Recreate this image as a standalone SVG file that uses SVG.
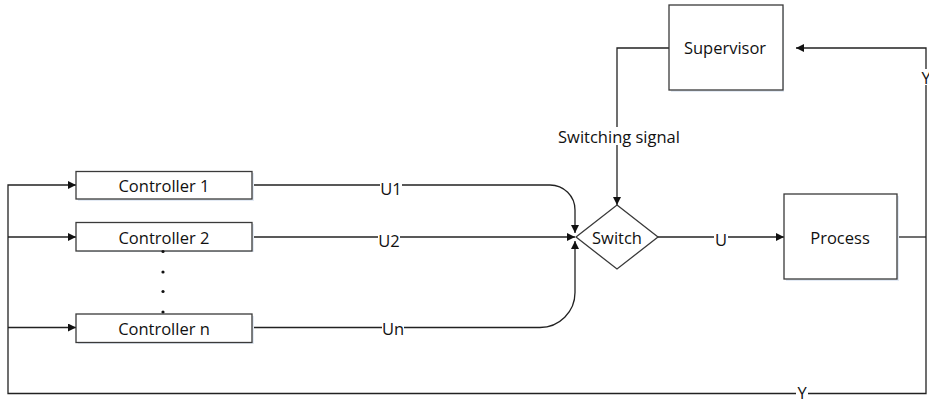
<svg xmlns="http://www.w3.org/2000/svg" width="929" height="402" viewBox="0 0 929 402">
<style>
.box{fill:#fff;stroke:#3a3a3a;stroke-width:1.3}
.shadow{fill:#e3eaf4}
.t{font-family:"Open Sans","Liberation Sans",sans-serif;font-size:16.5px;fill:#111;text-anchor:middle;dominant-baseline:central}
.bg{fill:#fff}
.c{fill:none;stroke:#222;stroke-width:1.3}
</style>
<defs>
<marker id="ah" viewBox="0 0 10 10" refX="10" refY="5" markerWidth="8" markerHeight="8" markerUnits="userSpaceOnUse" orient="auto">
<path d="M0,0 L10,5 L0,10 z" fill="#111"/>
</marker>
</defs>
<g id="connectors">
<path class="c" d="M926,237 H897"/>
<path class="c" d="M926,237 V393.5 H8 V185 H76" marker-end="url(#ah)"/>
<path class="c" d="M8,237 H76" marker-end="url(#ah)"/>
<path class="c" d="M8,327.5 H76" marker-end="url(#ah)"/>
<path class="c" d="M926,237 V48 H796" marker-end="url(#ah)"/>
<path class="c" d="M669,48 H617 V205" marker-end="url(#ah)"/>
<path class="c" d="M252,185 H550 A25,25 0 0 1 575,210 V233" marker-end="url(#ah)"/>
<path class="c" d="M252,237 H575" marker-end="url(#ah)"/>
<path class="c" d="M252,327.5 H540 A35,35 0 0 0 575,292.5 V241" marker-end="url(#ah)"/>
<path class="c" d="M658,237 H784" marker-end="url(#ah)"/>
<rect class="bg" x="380" y="179" width="22" height="18"/>
<text class="t" x="391" y="188">U1</text>
<rect class="bg" x="378" y="231" width="22" height="18"/>
<text class="t" x="389" y="240">U2</text>
<rect class="bg" x="382" y="319" width="22" height="18"/>
<text class="t" x="393" y="328">Un</text>
<rect class="bg" x="714" y="230" width="14" height="18"/>
<text class="t" x="721" y="239">U</text>
<rect class="bg" x="796" y="386" width="12" height="14"/>
<text class="t" x="802" y="392">Y</text>
<rect class="bg" x="920" y="69" width="9" height="16"/>
<text class="t" x="926" y="77">Y</text>
<rect class="bg" x="557" y="127" width="124" height="18"/>
<text class="t" x="619" y="136">Switching signal</text>
</g>
<g id="controller1">
<rect class="shadow" x="78" y="173" width="176" height="28"/>
<rect class="box" x="76" y="171.5" width="176" height="27.5"/>
<text class="t" x="164" y="185">Controller 1</text>
</g>
<g id="controller2">
<rect class="shadow" x="78" y="224" width="176" height="28"/>
<rect class="box" x="76" y="222.5" width="176" height="28.5"/>
<text class="t" x="164" y="237">Controller 2</text>
</g>
<g id="dots">
<circle cx="163" cy="251.5" r="1.6" fill="#111"/>
<circle cx="163" cy="272" r="1.6" fill="#111"/>
<circle cx="163" cy="291.5" r="1.6" fill="#111"/>
<circle cx="163" cy="312" r="1.6" fill="#111"/>
</g>
<g id="controllern">
<rect class="shadow" x="78" y="316" width="176" height="28"/>
<rect class="box" x="76" y="314" width="176" height="28.5"/>
<text class="t" x="164" y="328">Controller n</text>
</g>
<g id="switch">
<path class="box" d="M617,205 L658,237 L617,269 L576,237 Z"/>
<text class="t" x="617" y="237">Switch</text>
</g>
<g id="process">
<rect class="shadow" x="786" y="196" width="113" height="85"/>
<rect class="box" x="784" y="194" width="113" height="85"/>
<text class="t" x="840" y="237">Process</text>
</g>
<g id="supervisor">
<rect class="shadow" x="671" y="7" width="113" height="85"/>
<rect class="box" x="669" y="5" width="114" height="85"/>
<text class="t" x="725" y="47">Supervisor</text>
</g>
</svg>
